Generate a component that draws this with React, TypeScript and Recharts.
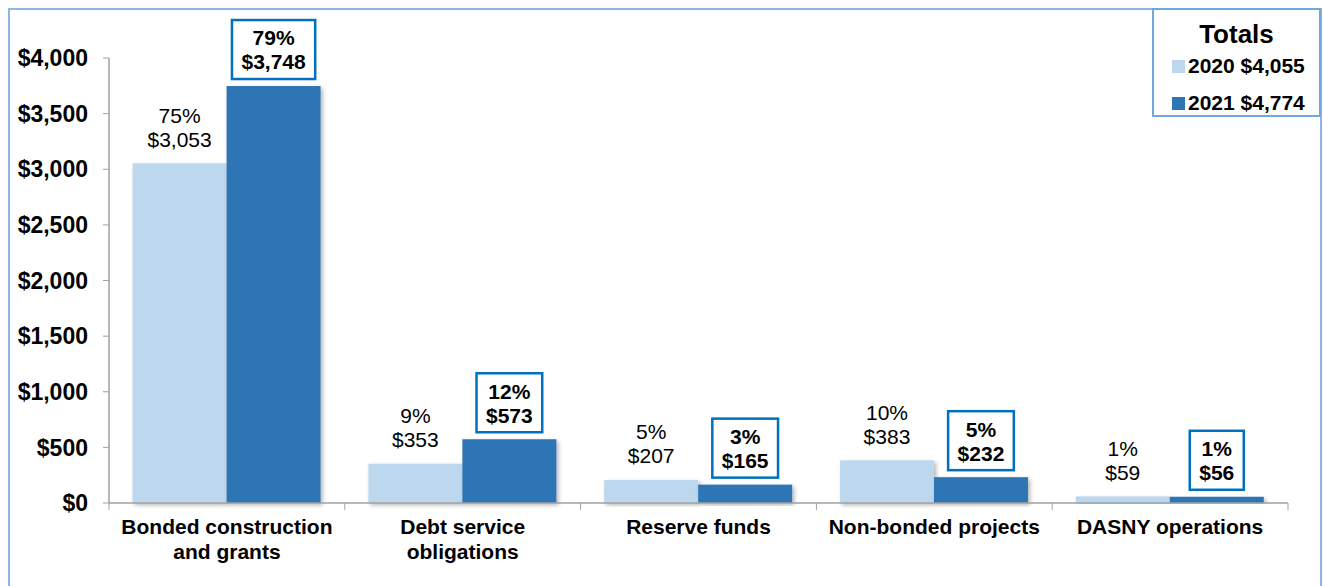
import React from 'react';
import { BarChart, Bar, XAxis, YAxis, LabelList, Legend } from 'recharts';

const categories = [
  'Bonded construction\nand grants',
  'Debt service\nobligations',
  'Reserve funds',
  'Non-bonded projects',
  'DASNY operations',
];
const values2020 = [3053, 353, 207, 383, 59];
const values2021 = [3748, 573, 165, 232, 56];
const pct2020 = [75, 9, 5, 10, 1];
const pct2021 = [79, 12, 3, 5, 1];
const yTicks = [0, 500, 1000, 1500, 2000, 2500, 3000, 3500, 4000];
const seriesNames = ['2020', '2021'];

const FONT = '"Liberation Sans", Arial, sans-serif';
const LIGHT = '#bdd7ee';
const DARK = '#2e75b6';
const AXIS = '#a0a0a0';

const data = categories.map((c, i) => ({
  name: c,
  v2020: values2020[i],
  v2021: values2021[i],
}));

const total2020 = values2020.reduce((a, b) => a + b, 0);
const total2021 = values2021.reduce((a, b) => a + b, 0);

const money = (v: number) => '$' + v.toLocaleString('en-US');

let canvasCtx: CanvasRenderingContext2D | null = null;
function measure(text: string, font: string): number {
  if (!canvasCtx) {
    const c = document.createElement('canvas');
    canvasCtx = c.getContext('2d');
  }
  if (!canvasCtx) return text.length * 11;
  canvasCtx.font = font;
  return canvasCtx.measureText(text).width;
}

const Label2020 = (props: any) => {
  const { x, y, width, index, value } = props;
  const cx = x + width / 2;
  return (
    <text textAnchor="middle" fontFamily={FONT} fontSize={21} fill="#000">
      <tspan x={cx} y={y - 48} dy="0.355em">{pct2020[index]}%</tspan>
      <tspan x={cx} y={y - 24} dy="0.355em">{money(value)}</tspan>
    </text>
  );
};

const Label2021 = (props: any) => {
  const { x, y, width, index, value } = props;
  const cx = x + width / 2;
  const t1 = `${pct2021[index]}%`;
  const t2 = money(value);
  const f = `bold 21px ${FONT}`;
  const tw = Math.max(measure(t1, f), measure(t2, f));
  const bw = tw + 19;
  const bh = 59;
  const bottom = y - 7;
  const top = bottom - bh;
  return (
    <g>
      <rect
        x={cx - bw / 2}
        y={top}
        width={bw}
        height={bh}
        fill="#fff"
        stroke="#0070c0"
        strokeWidth={2.5}
      />
      <text textAnchor="middle" fontFamily={FONT} fontSize={21} fontWeight="bold" fill="#000">
        <tspan x={cx} y={top + 18} dy="0.355em">{t1}</tspan>
        <tspan x={cx} y={top + 42} dy="0.355em">{t2}</tspan>
      </text>
    </g>
  );
};

const XTick = (props: any) => {
  const { x, y, payload, index, width } = props;
  const n = categories.length;
  const half = (width || 1179) / (2 * n);
  const lines = String(payload.value).split('\n');
  const axisY = y - 8;
  return (
    <g>
      <line x1={x - half} x2={x - half} y1={axisY} y2={axisY + 7} stroke={AXIS} strokeWidth={1} />
      {index === n - 1 && (
        <line x1={x + half} x2={x + half} y1={axisY} y2={axisY + 7} stroke={AXIS} strokeWidth={1} />
      )}
      <text textAnchor="middle" fontFamily={FONT} fontSize={21} fontWeight="bold" fill="#000">
        {lines.map((l, i) => (
          <tspan key={i} x={x} y={axisY + 24 + i * 25} dy="0.355em">{l}</tspan>
        ))}
      </text>
    </g>
  );
};

const ShadowBar = (props: any) => {
  const { x, y, width, height, fill } = props;
  if (!height || height <= 0) return null;
  return <rect x={x} y={y} width={width} height={height} fill={fill} filter="url(#barShadow)" />;
};

const TotalsLegend = () => {
  const items = [
    { label: `${seriesNames[0]} ${money(total2020)}`, color: LIGHT, top: 56 },
    { label: `${seriesNames[1]} ${money(total2021)}`, color: DARK, top: 93 },
  ];
  return (
    <div
      style={{
        position: 'relative',
        width: 169,
        height: 109,
        boxSizing: 'border-box',
        border: '2px solid #6fa8dc',
        background: '#fff',
        fontFamily: FONT,
        color: '#000',
      }}
    >
      <div
        style={{
          position: 'absolute',
          left: 0,
          right: 0,
          top: 9,
          textAlign: 'center',
          fontWeight: 'bold',
          fontSize: 26,
          lineHeight: '30px',
        }}
      >
        Totals
      </div>
      {items.map((it, i) => (
        <div
          key={i}
          style={{
            position: 'absolute',
            left: 18,
            top: it.top - 12,
            height: 24,
            display: 'flex',
            alignItems: 'center',
            fontWeight: 'bold',
            fontSize: 21,
            whiteSpace: 'nowrap',
          }}
        >
          <span
            style={{
              display: 'inline-block',
              width: 13,
              height: 13,
              background: it.color,
              marginRight: 3,
            }}
          />
          {it.label}
        </div>
      ))}
    </div>
  );
};

export default function App() {
  return (
    <div
      style={{
        position: 'absolute',
        left: 0,
        top: 0,
        width: 1323,
        height: 586,
        overflow: 'hidden',
        background: '#fff',
      }}
    >
      <div
        style={{
          position: 'absolute',
          left: 8,
          top: 8,
          width: 1314,
          height: 620,
          boxSizing: 'border-box',
          border: '2px solid #8db4e2',
        }}
      />
      <div style={{ position: 'absolute', left: 0, top: 0 }}>
        <BarChart
          width={1323}
          height={586}
          data={data}
          margin={{ top: 58, right: 35, bottom: 0, left: 0 }}
          barCategoryGap="10%"
          barGap={0}
        >
          <defs>
            <filter id="barShadow" x="-10%" y="-10%" width="125%" height="125%">
              <feDropShadow dx="2" dy="2" stdDeviation="2" floodColor="#000" floodOpacity="0.3" />
            </filter>
          </defs>
          <XAxis
            dataKey="name"
            height={83}
            interval={0}
            axisLine={{ stroke: AXIS, strokeWidth: 1.5 }}
            tickLine={false}
            tick={<XTick />}
          />
          <YAxis
            width={109}
            domain={[0, 4000]}
            ticks={yTicks}
            interval={0}
            tickFormatter={(v: number) => money(v)}
            axisLine={{ stroke: AXIS, strokeWidth: 1.5 }}
            tickLine={{ stroke: AXIS }}
            tickSize={6}
            tickMargin={15}
            tick={{ fontFamily: FONT, fontSize: 23, fontWeight: 'bold', fill: '#000' }}
          />
          <Legend
            layout="vertical"
            align="center"
            verticalAlign="middle"
            content={<TotalsLegend />}
            wrapperStyle={{ position: 'absolute', left: 1152, top: 8, width: 169, height: 109 }}
          />
          <Bar
            dataKey="v2020"
            name={seriesNames[0]}
            fill={LIGHT}
            shape={<ShadowBar />}
            isAnimationActive={false}
          >
            <LabelList dataKey="v2020" content={<Label2020 />} />
          </Bar>
          <Bar
            dataKey="v2021"
            name={seriesNames[1]}
            fill={DARK}
            shape={<ShadowBar />}
            isAnimationActive={false}
          >
            <LabelList dataKey="v2021" content={<Label2021 />} />
          </Bar>
        </BarChart>
      </div>
    </div>
  );
}
